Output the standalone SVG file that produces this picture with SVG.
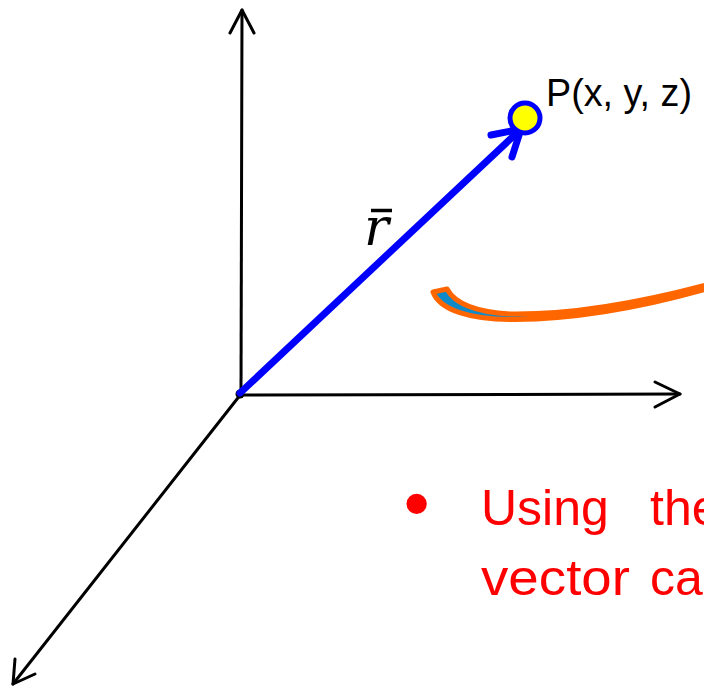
<svg xmlns="http://www.w3.org/2000/svg" width="704" height="689" viewBox="0 0 704 689">
<style>
.axis{fill:none;stroke:#000;stroke-width:3;stroke-linecap:round;stroke-linejoin:round}
.vec{fill:none;stroke:#0000ff;stroke-width:7;stroke-linecap:round;stroke-linejoin:round}
.lbl{font-family:"Liberation Sans",Arial,sans-serif;fill:#000}
.red{font-family:"Liberation Sans",Arial,sans-serif;fill:#ff0000;font-size:50px}
</style>
<rect width="704" height="689" fill="#fff"/>
<g id="connectors">
  <g id="z-axis">
    <line class="axis" x1="241" y1="394" x2="242" y2="10"/>
    <polyline class="axis" points="230,33 242,10 254,33"/>
  </g>
  <g id="y-axis">
    <line class="axis" x1="241" y1="395" x2="680" y2="394"/>
    <polyline class="axis" points="655,382 680,394 655,407"/>
  </g>
  <g id="x-axis">
    <line class="axis" x1="241" y1="394" x2="13" y2="684"/>
    <polyline class="axis" points="15,659 13,684 35,674"/>
  </g>
  <g id="position-vector">
    <circle cx="240" cy="394" r="4.5" fill="#000"/>
    <line class="vec" x1="240" y1="393" x2="521" y2="129"/>
    <polyline class="vec" points="491,135 521,129 512,157"/>
  </g>
</g>
<g id="point-P">
  <circle cx="525" cy="118" r="15" fill="#ffff00" stroke="#0000ff" stroke-width="5"/>
  <text class="lbl" x="546" y="106" font-size="38" textLength="146" lengthAdjust="spacingAndGlyphs">P(x, y, z)</text>
</g>
<g id="label-r">
  <text x="364" y="245" font-family="'DejaVu Serif','Liberation Serif',serif" font-style="italic" font-size="52" fill="#000">r</text>
  <line x1="371" y1="210.5" x2="392" y2="210.5" stroke="#000" stroke-width="3.5"/>
</g>
<g id="curved-arrow">
  <path d="M433,292 L447,289 C455,304 475,312 510,314 C580,315 650,300 708,284.5 L708,288.5 C650,305 580,319 515,319.5 C470,320 440,310 433,292 Z" fill="#0e8ac8" stroke="#ff6600" stroke-width="5" stroke-linejoin="round"/>
</g>
<g id="bullet-text">
  <text class="red" x="403.5" y="529" font-size="75" style="font-size:75px">•</text>
  <text class="red" x="481" y="525">Using</text>
  <text class="red" x="650" y="525">the</text>
  <text class="red" x="481" y="595" textLength="149" lengthAdjust="spacingAndGlyphs">vector</text>
  <text class="red" x="650" y="595">can</text>
</g>
</svg>
